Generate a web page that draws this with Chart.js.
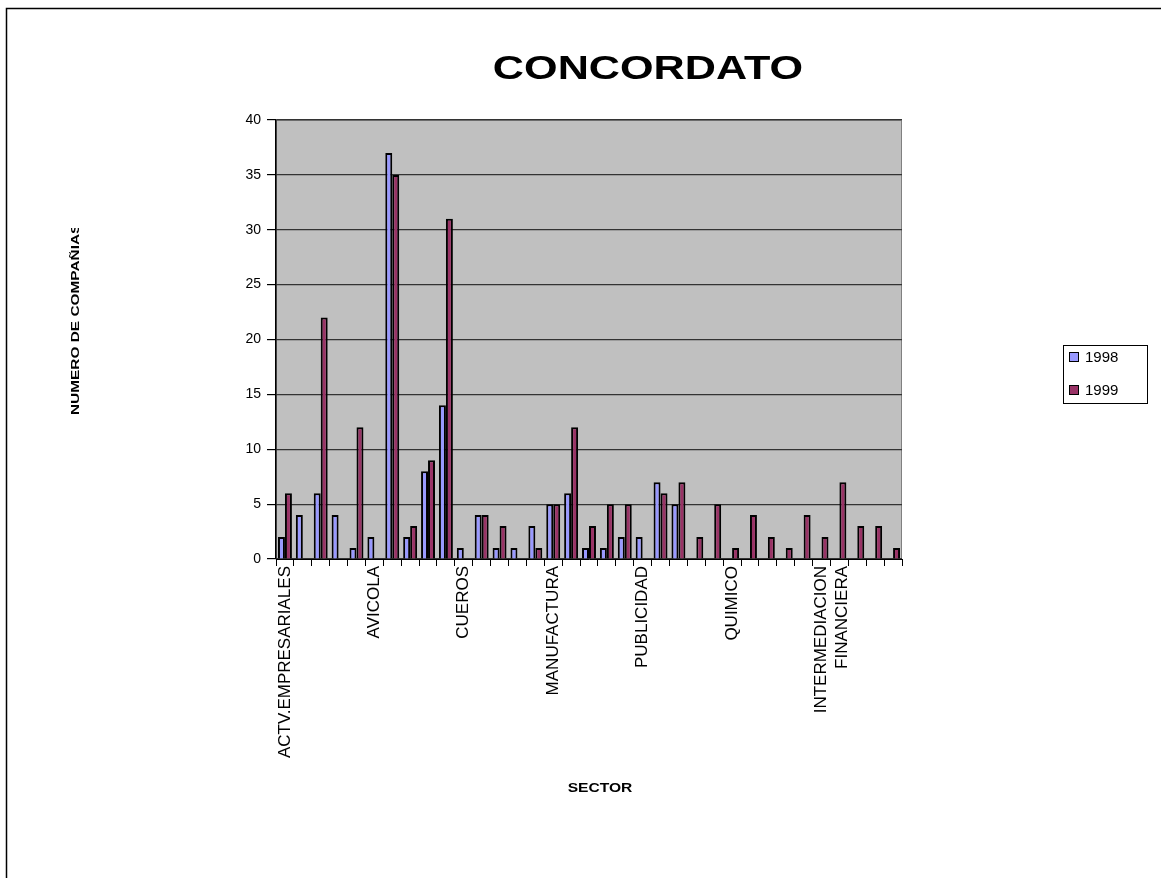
<!DOCTYPE html>
<html>
<head>
<meta charset="utf-8">
<title>CONCORDATO</title>
<script src="https://cdn.jsdelivr.net/npm/chart.js@4.4.1/dist/chart.umd.min.js"></script>
<style>
  html, body { margin: 0; padding: 0; background: #fff; }
  #wrap { width: 1161px; height: 878px; }
</style>
</head>
<body>
<div id="wrap"><canvas id="concordatoChart" width="1161" height="878"></canvas></div>
<script>
// Sectors (only every fifth name is readable on the original axis)
const sectors = [
  "ACTV.EMPRESARIALES", "", "", "", "",
  "AVICOLA", "", "", "", "",
  "CUEROS", "", "", "", "",
  "MANUFACTURA", "", "", "", "",
  "PUBLICIDAD", "", "", "", "",
  "QUIMICO", "", "", "", "",
  ["INTERMEDIACION", "FINANCIERA"], "", "", "", ""
];

// Number of companies per sector
const companies1998 = [2, 4, 6, 4, 1, 2, 37, 2, 8, 14, 1, 4, 1, 1, 3, 5, 6, 1, 1, 2,
                       2, 7, 5, 0, 0, 0, 0, 0, 0, 0, 0, 0, 0, 0, 0];
const companies1999 = [6, 0, 22, 0, 12, 0, 35, 3, 9, 31, 0, 4, 3, 0, 1, 5, 12, 3, 5, 5,
                       0, 6, 7, 2, 5, 1, 4, 2, 1, 4, 2, 7, 3, 3, 1];

const yTicks = [0, 5, 10, 15, 20, 25, 30, 35, 40];

const FONT = 'Arial, "Liberation Sans", sans-serif';

// Grey plot background, like the old Excel chart
const plotBackground = {
  id: 'plotBackground',
  beforeDraw(chart) {
    const { ctx, chartArea: a } = chart;
    ctx.save();
    ctx.fillStyle = '#c0c0c0';
    ctx.fillRect(a.left, a.top, a.right - a.left, a.bottom - a.top);
    ctx.strokeStyle = '#808080';
    ctx.lineWidth = 1;
    ctx.strokeRect(a.left + 0.5, a.top + 0.5, a.right - a.left - 1, a.bottom - a.top - 1);
    ctx.restore();
  }
};

// Titles, legend and outer frame
const decorations = {
  id: 'decorations',
  afterDraw(chart) {
    const ctx = chart.ctx;
    ctx.save();

    // outer frame (top and left only, the rest is cut off)
    ctx.strokeStyle = '#000';
    ctx.lineWidth = 1.5;
    ctx.beginPath();
    ctx.moveTo(1161, 8.5);
    ctx.lineTo(6.5, 8.5);
    ctx.lineTo(6.5, 878);
    ctx.stroke();

    ctx.fillStyle = '#000';

    // main title
    ctx.save();
    ctx.translate(648, 79);
    ctx.scale(1.27, 1);
    ctx.font = 'bold 34px ' + FONT;
    ctx.textAlign = 'center';
    ctx.textBaseline = 'alphabetic';
    ctx.fillText('CONCORDATO', 0, 0);
    ctx.restore();

    // y axis title, clipped at the top like the original
    ctx.save();
    ctx.beginPath();
    ctx.rect(0, 228, 200, 300);
    ctx.clip();
    ctx.translate(79, 415);
    ctx.rotate(-Math.PI / 2);
    ctx.scale(1.4, 1);
    ctx.font = 'bold 11px ' + FONT;
    ctx.textAlign = 'left';
    ctx.textBaseline = 'alphabetic';
    ctx.fillText('NUMERO DE COMPAÑIAS', 0, 0);
    ctx.restore();

    // x axis title
    ctx.save();
    ctx.translate(600, 792);
    ctx.scale(1.2, 1);
    ctx.font = 'bold 13px ' + FONT;
    ctx.textAlign = 'center';
    ctx.fillText('SECTOR', 0, 0);
    ctx.restore();

    // legend
    ctx.lineWidth = 1;
    ctx.strokeStyle = '#000';
    ctx.fillStyle = '#fff';
    ctx.fillRect(1063.5, 345.5, 84, 58);
    ctx.strokeRect(1063.5, 345.5, 84, 58);
    const rows = [357, 390];
    chart.data.datasets.forEach((ds, i) => {
      const y = rows[i];
      ctx.fillStyle = ds.backgroundColor;
      ctx.fillRect(1069.5, y - 4.5, 9, 9);
      ctx.strokeRect(1069.5, y - 4.5, 9, 9);
      ctx.fillStyle = '#000';
      ctx.font = '15px ' + FONT;
      ctx.textAlign = 'left';
      ctx.textBaseline = 'middle';
      ctx.fillText(ds.label, 1085, y + 1);
    });

    ctx.restore();
  }
};

const data = {
  labels: sectors,
  datasets: [
    {
      label: '1998',
      data: companies1998,
      backgroundColor: '#9999ff',
      borderColor: '#000',
      borderWidth: 2,
      categoryPercentage: 0.78,
      barPercentage: 1.0
    },
    {
      label: '1999',
      data: companies1999,
      backgroundColor: '#993366',
      borderColor: '#000',
      borderWidth: 2,
      categoryPercentage: 0.78,
      barPercentage: 1.0
    }
  ]
};

const config = {
  type: 'bar',
  data: data,
  options: {
    responsive: false,
    animation: false,
    layout: { padding: { top: 120, right: 259, left: 0, bottom: 0 } },
    plugins: {
      legend: { display: false },
      title: { display: false },
      tooltip: { enabled: false }
    },
    scales: {
      x: {
        afterFit(scale) { scale.height = 319; },
        grid: {
          drawOnChartArea: false,
          drawTicks: true,
          tickLength: 7,
          color: '#000',
          offset: true
        },
        border: { display: true, color: '#000', width: 1 },
        ticks: {
          autoSkip: false,
          minRotation: 90,
          maxRotation: 90,
          padding: 0,
          color: '#000',
          font: { family: FONT, size: 17 }
        }
      },
      y: {
        min: 0,
        max: 40,
        afterFit(scale) { scale.width = 276; },
        afterBuildTicks(scale) { scale.ticks = yTicks.map(v => ({ value: v })); },
        grid: {
          color: '#333',
          lineWidth: 1.2,
          tickLength: 9,
          tickColor: '#000'
        },
        border: { display: true, color: '#000', width: 1.5 },
        ticks: {
          padding: 6,
          color: '#000',
          font: { family: FONT, size: 14 }
        }
      }
    }
  },
  plugins: [plotBackground, decorations]
};

window.addEventListener('DOMContentLoaded', () => {
  new Chart(document.getElementById('concordatoChart'), config);
});
</script>
</body>
</html>
